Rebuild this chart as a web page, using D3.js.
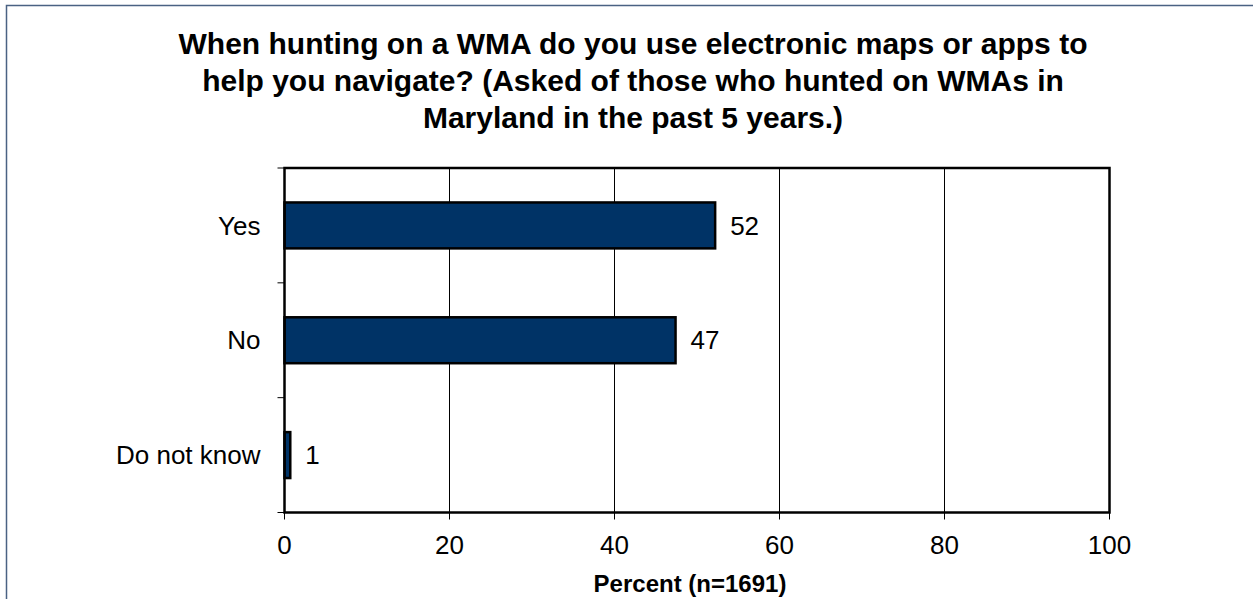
<!DOCTYPE html>
<html>
<head>
<meta charset="utf-8">
<script src="https://cdn.jsdelivr.net/npm/d3@7"></script>
<style>
  html, body { margin: 0; padding: 0; background: #fff; }
  svg { display: block; }
  text { font-family: "Liberation Sans", Arial, sans-serif; fill: #000; }
</style>
</head>
<body>
<svg id="chart" width="1253" height="599"></svg>
<script>
const categories = ["Yes", "No", "Do not know"];
const values = [52.2, 47.4, 0.7];
const valueLabels = ["52", "47", "1"];
const xTicks = [0, 20, 40, 60, 80, 100];
const titleLines = [
  "When hunting on a WMA do you use electronic maps or apps to",
  "help you navigate? (Asked of those who hunted on WMAs in",
  "Maryland in the past 5 years.)"
];
const xAxisTitle = "Percent (n=1691)";

const svg = d3.select("#chart");
const W = 1253, H = 599;
const m = { left: 284.5, right: 1109.5, top: 168, bottom: 512.5 };

// outer border
svg.append("path")
  .attr("d", `M6.5,${H} L6.5,5.5 L${W},5.5`)
  .attr("fill", "none").attr("stroke", "#4a6283").attr("stroke-width", 1.5);

// title
const title = svg.append("text").attr("text-anchor", "middle")
  .style("font-weight", "bold").style("font-size", "30px");
titleLines.forEach((t, i) => {
  title.append("tspan").attr("x", 633).attr("y", 54 + i * 37.2).text(t);
});

const x = d3.scaleLinear().domain([0, 100]).range([m.left, m.right]);
const y = d3.scaleBand().domain(categories).range([m.top, m.bottom]).paddingInner(0.6).paddingOuter(0.3);
const yOuter = d3.scaleBand().domain(categories).range([m.top, m.bottom]);

// gridlines
svg.append("g").selectAll("line").data(xTicks.filter(d => d > 0 && d < 100)).join("line")
  .attr("x1", d => x(d)).attr("x2", d => x(d))
  .attr("y1", m.top).attr("y2", m.bottom)
  .attr("stroke", "#000").attr("stroke-width", 1);

// bars
svg.append("g").selectAll("rect").data(categories).join("rect")
  .attr("x", x(0))
  .attr("y", d => y(d))
  .attr("width", (d, i) => x(values[i]) - x(0))
  .attr("height", y.bandwidth())
  .attr("fill", "#003366")
  .attr("stroke", "#000").attr("stroke-width", 2.5);

// value labels
svg.append("g").selectAll("text").data(categories).join("text")
  .attr("x", (d, i) => x(values[i]) + 15)
  .attr("y", d => y(d) + y.bandwidth() / 2)
  .attr("dy", "0.35em")
  .style("font-size", "26px")
  .text((d, i) => valueLabels[i]);

// plot frame
svg.append("rect")
  .attr("x", m.left).attr("y", m.top)
  .attr("width", m.right - m.left).attr("height", m.bottom - m.top)
  .attr("fill", "none").attr("stroke", "#000").attr("stroke-width", 2.5);

// y axis ticks (category boundaries) and labels
const boundaries = categories.map(c => yOuter(c)).concat([m.bottom]);
svg.append("g").selectAll("line").data(boundaries).join("line")
  .attr("x1", m.left - 7).attr("x2", m.left)
  .attr("y1", d => d).attr("y2", d => d)
  .attr("stroke", "#000").attr("stroke-width", 1);
svg.append("g").selectAll("text").data(categories).join("text")
  .attr("x", m.left - 24)
  .attr("y", d => yOuter(d) + yOuter.bandwidth() / 2)
  .attr("dy", "0.35em")
  .attr("text-anchor", "end")
  .style("font-size", "26px")
  .text(d => d);

// x axis ticks and labels
const xa = svg.append("g");
xa.selectAll("line").data(xTicks).join("line")
  .attr("x1", d => x(d)).attr("x2", d => x(d))
  .attr("y1", m.bottom).attr("y2", m.bottom + 7)
  .attr("stroke", "#000").attr("stroke-width", 1);
xa.selectAll("text").data(xTicks).join("text")
  .attr("x", d => x(d)).attr("y", m.bottom + 41)
  .attr("text-anchor", "middle")
  .style("font-size", "26px")
  .text(d => d);

svg.append("text")
  .attr("x", 690).attr("y", 592)
  .attr("text-anchor", "middle")
  .style("font-weight", "bold").style("font-size", "24px")
  .text(xAxisTitle);
</script>
</body>
</html>
